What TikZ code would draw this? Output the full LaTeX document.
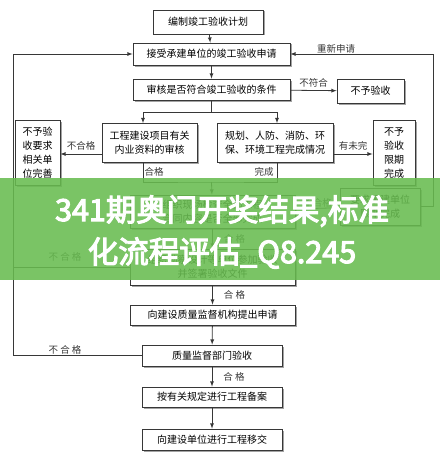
\documentclass[tikz,border=0pt]{standalone}
\usepackage{fontspec}
\setmainfont{Noto Sans CJK SC}
\newfontfamily\bannerfont[AutoFakeBold=3.5]{Noto Sans CJK SC}
\usepackage{xcolor}
\usetikzlibrary{calc,shadows}

\definecolor{linegray}{RGB}{55,55,55}
\definecolor{bandgreen}{RGB}{104,188,80}

\begin{document}
\begin{tikzpicture}[x=1pt, y=-1pt,
    box/.style={draw=linegray, line width=0.8pt, fill=white, align=center, inner sep=1pt,
        font=\fontsize{10}{14}\selectfont,
        drop shadow={shadow xshift=1.5pt, shadow yshift=-1.5pt, fill=black!45, opacity=0.8}},
    lbl/.style={font=\fontsize{9.5}{12}\selectfont, text=linegray, inner sep=1pt},
    arrow/.style={->, >=latex, draw=linegray, line width=0.8pt},
    link/.style={draw=linegray, line width=0.8pt}
]
\useasboundingbox (0,0) rectangle (440,460);
\fill[white] (0,0) rectangle (440,460);

% main column
\node[box, minimum width=110, minimum height=24] (plan) at (208,22) {编制竣工验收计划};
\node[box, minimum width=157, minimum height=22] (apply) at (211.5,54) {接受承建单位的竣工验收申请};
\node[box, minimum width=157, minimum height=21] (check) at (211.5,89.5) {审核是否符合竣工验收的条件};
\node[box, minimum width=67, minimum height=24] (reject) at (370.5,91) {不予验收};
\node[box, minimum width=95, minimum height=39] (docs) at (149.5,143) {工程建设项目有关\\内业资料的审核};
\node[box, minimum width=116, minimum height=39] (works) at (275,143) {规划、人防、消防、环\\保、环境工程完成情况};
\node[box, minimum width=45, minimum height=65] (improve) at (37.5,152.5) {不予验\\收要求\\相关单\\位完善};
\node[box, minimum width=42, minimum height=65] (limit) at (394,153) {不予\\验收\\限期\\完成};
\node[box, minimum width=165, minimum height=33] (site) at (212.5,211.5) {组织现场检查全部工程\\合同内容是否全部完成};
\node[box, minimum width=80, minimum height=37] (fix) at (380,206.5) {要求承建单位\\限期完成};
\node[box, minimum width=165, minimum height=36] (sign) at (212.5,267) {组织勘察设计等单位参加验收\\并签署验收文件};
\node[box, minimum width=165, minimum height=20] (submit) at (212.5,315) {向建设质量监督机构提出申请};
\node[box, minimum width=140, minimum height=21] (supervise) at (212,355.5) {质量监督部门验收};
\node[box, minimum width=140, minimum height=20] (record) at (212,397) {按有关规定进行工程备案};
\node[box, minimum width=140, minimum height=21] (handover) at (212,439.5) {向建设单位进行工程移交};

\coordinate (split) at (211.5,112);
\coordinate (join) at (211.5,182);
\coordinate (loopL) at (13,0);
\coordinate (loopR) at (433,0);

\draw[arrow] (plan) -- (apply);
\draw[arrow] (apply) -- (check);
\draw[arrow] (check) -- (reject) node[lbl, midway, above, yshift=2pt] {不符合};
\draw[link] (check) -- (split);
\draw[arrow] (split) -| ([xshift=-6.5pt]docs.north);
\draw[arrow] (split) -| ([xshift=2pt]works.north);
\draw[arrow] ([yshift=-11pt]docs.west) -- ([yshift=-11pt]docs.west -| improve.east)
    node[lbl, midway, above, yshift=2pt] {不合格};
\draw[arrow] ([yshift=-11pt]works.east) -- ([yshift=-11pt]works.east -| limit.west)
    node[lbl, midway, above, yshift=2pt] {有未完};
\draw[link] ([xshift=-6.5pt]docs.south) |- (join) -| ([xshift=2pt]works.south);
\node[lbl] (okdocs) at (154,172) {合格};
\node[lbl] (okworks) at (264,172) {完成};
\draw[arrow] (join) -- (site);
\draw[arrow] (site) -- (fix) node[lbl, midway, above] {不合格};
\draw[arrow] (fix.east) -- (fix.east -| loopR) |- (apply.east);
\node[lbl] (again) at (336,49) {重新申请};
\draw[arrow] (site) -- (sign) node[lbl, midway, right, xshift=10pt] {合\ 格};
\draw[link] (sign.west) -- (sign.west -| loopL);
\node[lbl] (failsign) at (65,257) {不\ 合\ 格};
\draw[arrow] (sign) -- (submit) node[lbl, midway, right, xshift=10pt] {合\ 格};
\draw[arrow] (submit) -- (supervise);
\draw[arrow] (supervise.west) -- (supervise.west -| loopL) |- (apply.west);
\node[lbl] (failsup) at (65,350) {不\ 合\ 格};
\draw[arrow] (supervise) -- (record) node[lbl, midway, right, xshift=10pt] {合\ 格};
\draw[arrow] (record) -- (handover);

% overlay band
\fill[bandgreen, opacity=0.88] (0,178) rectangle (440,280);
\node[text=white, align=center, font=\bannerfont\bfseries\fontsize{30.5}{42}\selectfont] (banner) at (222,232)
    {341期奥门开奖结果,标准\\化流程评估\_Q8.245};
\end{tikzpicture}
\end{document}
